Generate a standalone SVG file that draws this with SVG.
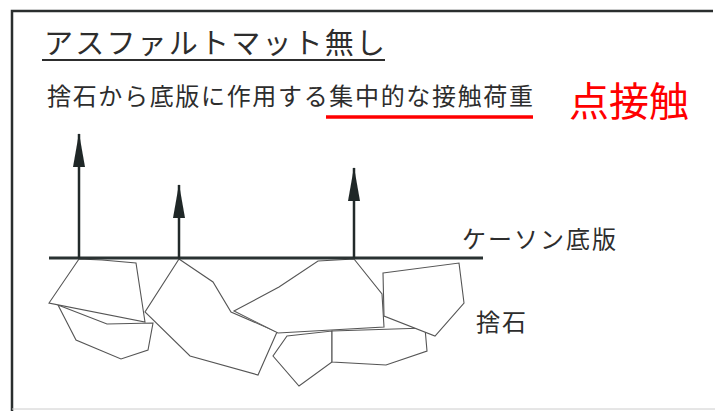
<svg xmlns="http://www.w3.org/2000/svg" width="715" height="411" viewBox="0 0 715 411">
  <defs>
    <style>
      .jp { font-family: "Noto Sans CJK JP", "Noto Sans", sans-serif; fill: #2d2d2d; }
      .red { fill: #ff0000; }
      .frame { stroke: #2a2e2e; stroke-width: 2.5; fill: none; }
      .slab { stroke: #2a3232; stroke-width: 3; fill: none; }
      .force { stroke: #222a2a; stroke-width: 2.5; fill: none; }
      .rock { stroke: #555; stroke-width: 1.1; fill: #fff; stroke-linejoin: miter; }
    </style>
    <!-- slender filled arrowhead, tip at the line end -->
    <marker id="head" viewBox="0 0 34 12" refX="33" refY="6" markerWidth="34" markerHeight="12" markerUnits="userSpaceOnUse" orient="auto">
      <path d="M34 6 L0 0 L0 12 Z" fill="#1f2727"/>
    </marker>
  </defs>

  <rect width="715" height="411" fill="#fff"/>

  <!-- frame -->
  <g id="frame">
    <path class="frame" d="M12 411 V11 H713"/>
    <line x1="12" y1="409" x2="715" y2="409" stroke="#ccc" stroke-width="1"/>
  </g>

  <!-- headings -->
  <g id="title">
    <text class="jp" x="44" y="54" font-size="29" textLength="341" lengthAdjust="spacing">アスファルトマット無し</text>
    <line x1="42" y1="60" x2="385" y2="60" stroke="#2d2d2d" stroke-width="2"/>
  </g>
  <g id="caption">
    <text class="jp" x="47" y="105" font-size="24" textLength="486" lengthAdjust="spacing">捨石から底版に作用する集中的な接触荷重</text>
    <line x1="326" y1="117" x2="533" y2="117" stroke="#ff0000" stroke-width="3.5"/>
  </g>
  <g id="point-contact">
    <text class="jp red" x="569" y="116" font-size="40" textLength="120" lengthAdjust="spacing">点接触</text>
  </g>

  <!-- rubble stones -->
  <g id="rubble">
    <polygon class="rock" points="58,305 107,324 153,323 148,350 121,359 76,340"/>
    <polygon class="rock" points="79,259 102,260 136,263 145,322 49,303"/>
    <polygon class="rock" points="179,259 213,282 231,312 277,332 258,375 190,356 145,312"/>
    <polygon class="rock" points="287,336 332,331 332,362 299,386 273,356"/>
    <polygon class="rock" points="332,331 425,328 427,351 386,365 332,362"/>
    <polygon class="rock" points="383,273 459,263 464,303 435,336 384,316"/>
    <polygon class="rock" points="318,261 354,259 382,294 384,327 278,333 234,311 279,287"/>
  </g>

  <!-- caisson base slab -->
  <g id="slab">
    <line class="slab" x1="49" y1="258" x2="483" y2="258"/>
    <text class="jp" x="462" y="248" font-size="24" textLength="154" lengthAdjust="spacing">ケーソン底版</text>
  </g>
  <g id="rubble-label">
    <text class="jp" x="476" y="331" font-size="24" textLength="50" lengthAdjust="spacing">捨石</text>
  </g>

  <!-- contact forces -->
  <g id="connectors">
    <line class="force" x1="79" y1="258" x2="79" y2="134" marker-end="url(#head)"/>
    <line class="force" x1="179" y1="258" x2="179" y2="185" marker-end="url(#head)"/>
    <line class="force" x1="354" y1="258" x2="354" y2="168" marker-end="url(#head)"/>
  </g>
</svg>
